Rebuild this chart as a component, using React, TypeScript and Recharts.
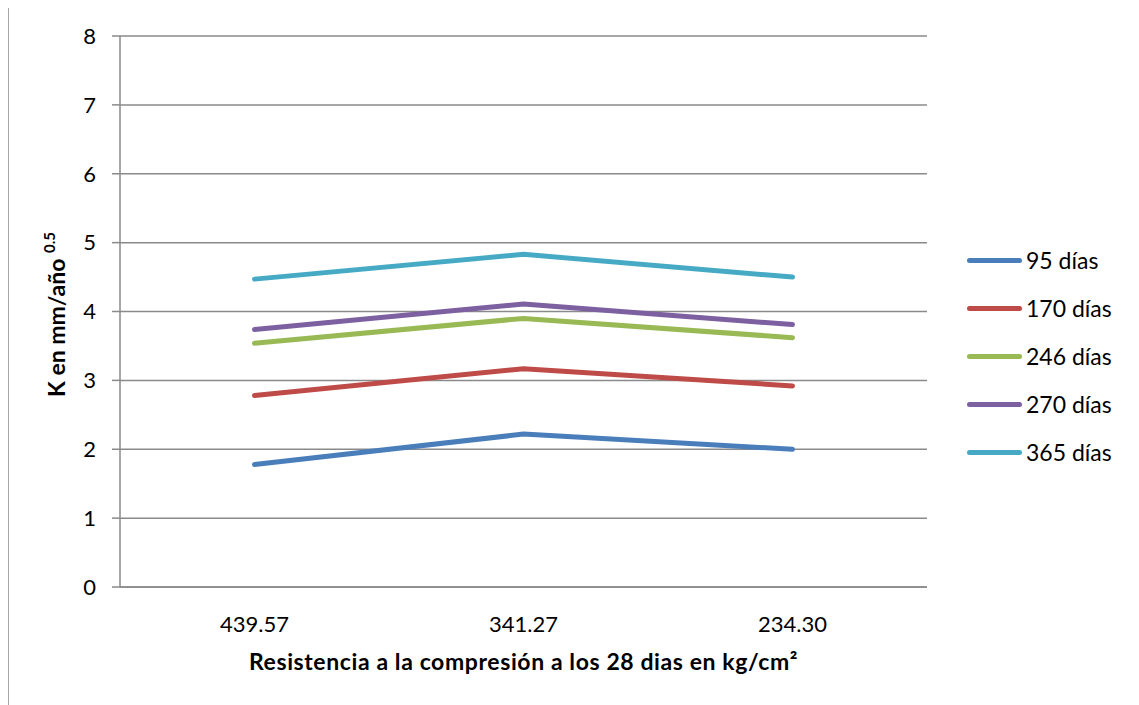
import React from "react";
import {
  LineChart,
  Line,
  XAxis,
  YAxis,
  CartesianGrid,
  Label,
} from "recharts";

// ---- data ----
const CATEGORIES = ["439.57", "341.27", "234.30"];
const SERIES_NAMES = ["95 días", "170 días", "246 días", "270 días", "365 días"];
const D95 = [1.78, 2.22, 2.0];
const D170 = [2.78, 3.17, 2.92];
const D246 = [3.54, 3.9, 3.62];
const D270 = [3.74, 4.11, 3.81];
const D365 = [4.47, 4.83, 4.5];
const Y_TICKS = [0, 1, 2, 3, 4, 5, 6, 7, 8];

const COLORS = ["#4A7EBB", "#BE4B48", "#98B954", "#7D60A0", "#46AAC5"];
const GRID = "#8A8A8A";
const FONT = "Lato, 'Open Sans', sans-serif";

const SERIES = [D95, D170, D246, D270, D365];
const data = CATEGORIES.map((c, i) => {
  const row: Record<string, string | number> = { cat: c };
  SERIES.forEach((s, k) => {
    row["s" + k] = s[i];
  });
  return row;
});

function YLabel(props: any) {
  const vb = props.viewBox;
  const cx = vb.x + 57;
  const cy = vb.y + vb.height / 2 + 3;
  return (
    <text
      x={cx}
      y={cy}
      transform={`rotate(-90, ${cx}, ${cy})`}
      textAnchor="middle"
      fontFamily={FONT}
      fontWeight={700}
      fontSize={23}
      fill="#000"
    >
      K en mm/año{" "}
      <tspan fontSize={15} dy={-10}>
        0.5
      </tspan>
    </text>
  );
}

function XLabel(props: any) {
  const vb = props.viewBox;
  return (
    <text
      x={vb.x + vb.width / 2}
      y={vb.y + 83}
      textAnchor="middle"
      fontFamily={FONT}
      fontWeight={700}
      fontSize={23}
      letterSpacing={0.6}
      fill="#000"
    >
      Resistencia a la compresión a los 28 dias en kg/cm²
    </text>
  );
}

export default function App() {
  return (
    <div style={{ position: "relative", width: 1131, height: 697, fontFamily: FONT }}>
      {/* chart frame */}
      <div
        style={{
          position: "absolute",
          left: 0,
          top: -1,
          width: 1131,
          height: 698,
          borderLeft: "1px solid #A6A6A6",
          borderTop: "1px solid #A6A6A6",
          boxSizing: "border-box",
        }}
      />
      <LineChart
        width={1131}
        height={697}
        data={data}
        margin={{ top: 28, right: 212, bottom: 28, left: 0 }}
      >
        <CartesianGrid vertical={false} stroke={GRID} strokeWidth={1.5} />
        <XAxis
          dataKey="cat"
          scale="band"
          height={90}
          axisLine={{ stroke: GRID, strokeWidth: 1.5 }}
          tickLine={false}
          tickSize={0}
          tickMargin={29}
          tick={{ fill: "#000", fontSize: 22, fontFamily: FONT }}
        >
          <Label content={<XLabel />} />
        </XAxis>
        <YAxis
          domain={[0, 8]}
          ticks={Y_TICKS}
          interval={0}
          width={112}
          axisLine={{ stroke: GRID, strokeWidth: 1.5 }}
          tickLine={{ stroke: GRID, strokeWidth: 1.5 }}
          tickSize={8}
          tickMargin={16}
          tick={{ fill: "#000", fontSize: 22, fontFamily: FONT }}
        >
          <Label content={<YLabel />} />
        </YAxis>
        {SERIES.map((_, k) => (
          <Line
            key={k}
            dataKey={"s" + k}
            name={SERIES_NAMES[k]}
            stroke={COLORS[k]}
            strokeWidth={5}
            strokeLinecap="round"
            strokeLinejoin="round"
            dot={false}
            activeDot={false}
            isAnimationActive={false}
          />
        ))}
      </LineChart>
      {/* legend */}
      <div style={{ position: "absolute", left: 959, top: 228 }}>
        {SERIES_NAMES.map((n, k) => (
          <div
            key={n}
            style={{ display: "flex", alignItems: "center", height: 48 }}
          >
            <div
              style={{
                width: 55,
                height: 5,
                borderRadius: 3,
                background: COLORS[k],
                marginRight: 4,
              }}
            />
            <span style={{ fontSize: 23, color: "#000" }}>{n}</span>
          </div>
        ))}
      </div>
    </div>
  );
}
